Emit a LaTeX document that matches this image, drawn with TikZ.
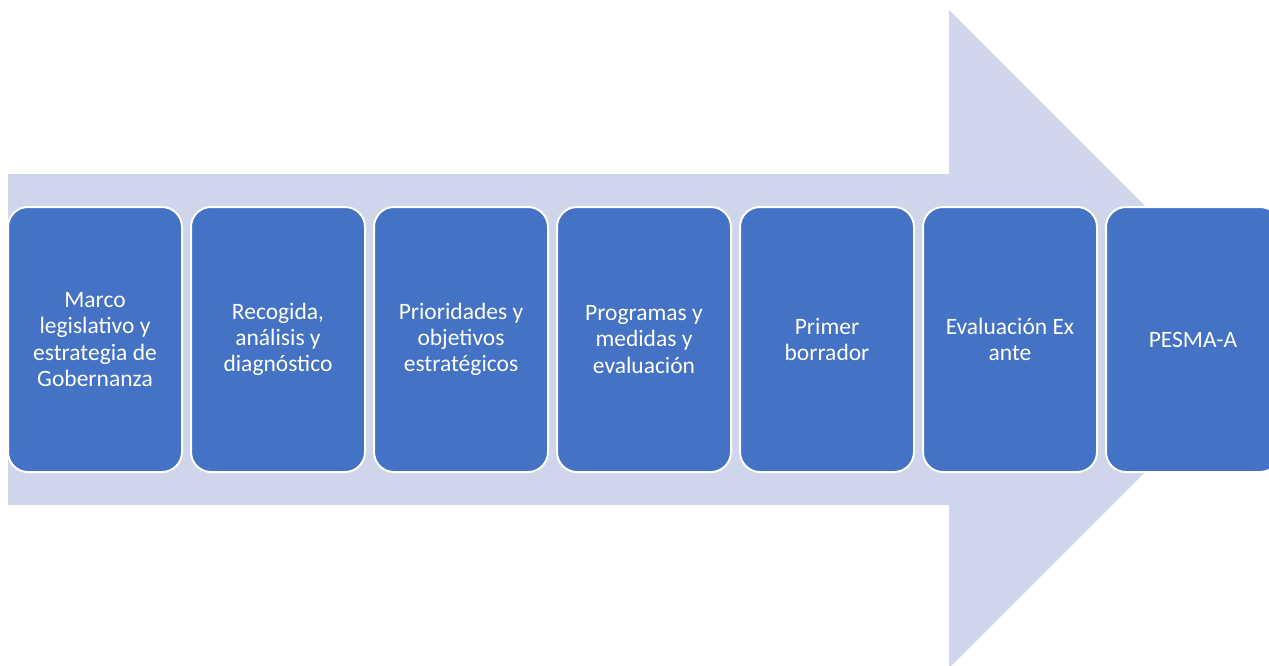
\documentclass[tikz,border=0pt]{standalone}
\usepackage{fontspec}
\setmainfont{Carlito}
\usepackage{xcolor}
\usetikzlibrary{positioning}
\definecolor{arrowlav}{HTML}{CFD5EA}
\definecolor{stepblue}{HTML}{4472C4}

\begin{document}
\begin{tikzpicture}[
    x=1pt, y=-1pt,
    stagebox/.style={
        rectangle, rounded corners=20pt, draw=white, line width=2pt,
        fill=stepblue, text=white, align=center,
        minimum width=174pt, minimum height=265pt, inner sep=0pt, outer sep=0pt,
        font=\fontsize{23.5}{26.3}\selectfont, anchor=north west},
    ]
\useasboundingbox (0,0) rectangle (1269,665);

% big background arrow
\fill[arrowlav] (8,174) -- (949,174) -- (949,10) -- (1278,339)
    -- (949,668) -- (949,505) -- (8,505) -- cycle;

\node[stagebox] (marco) at (8,207) {Marco\\legislativo y\\estrategia de\\Gobernanza};
\node[stagebox, right=9pt of marco.north east, anchor=north west] (recogida) {Recogida,\\análisis y\\diagnóstico};
\node[stagebox, right=9pt of recogida.north east, anchor=north west] (prioridades) {Prioridades y\\objetivos\\estratégicos};
\node[stagebox, right=9pt of prioridades.north east, anchor=north west] (programas) {Programas y\\medidas y\\evaluación};
\node[stagebox, right=9pt of programas.north east, anchor=north west] (borrador) {Primer\\borrador};
\node[stagebox, right=9pt of borrador.north east, anchor=north west] (exante) {Evaluación Ex\\ante};
\node[stagebox, right=9pt of exante.north east, anchor=north west] (pesma) {PESMA-A};

\end{tikzpicture}
\end{document}
